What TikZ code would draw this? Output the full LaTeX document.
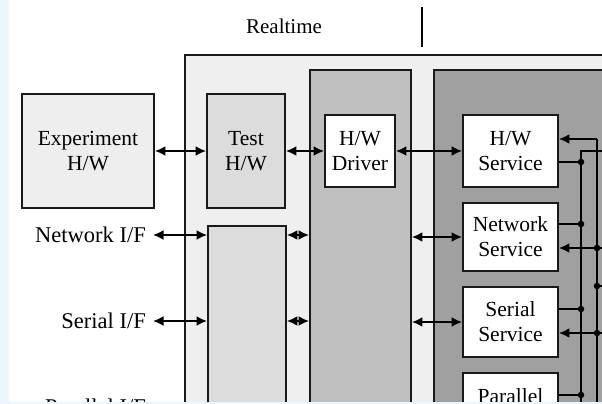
\documentclass[tikz,border=0pt]{standalone}
\usepackage{fontspec}
\setmainfont{Liberation Serif}
\usetikzlibrary{arrows.meta}
\definecolor{bandblue}{RGB}{238,246,253}
\definecolor{panelgray}{RGB}{239,239,239}
\definecolor{expgray}{RGB}{238,238,238}
\definecolor{testgray}{RGB}{220,220,220}
\definecolor{drivergray}{RGB}{192,192,192}
\definecolor{servicegray}{RGB}{160,160,160}
\begin{document}
\begin{tikzpicture}[x=1pt,y=-1pt,
  frame/.style={draw=black!90, line width=1.9pt, inner sep=0pt},
  panel/.style={frame, anchor=north west},
  block/.style={frame, fill=white, align=center, font=\fontsize{21.5}{25}\selectfont},
  iflabel/.style={anchor=east, inner sep=0pt, font=\fontsize{22.5}{27}\selectfont},
  tip/.tip={Latex[length=10.5pt,width=10pt]},
  link/.style={line width=1.9pt, tip-tip},
  feed/.style={line width=1.9pt, -tip},
  bus/.style={line width=1.9pt},
  tap/.style={circle, fill=black, inner sep=0pt, minimum size=6.5pt}]

\useasboundingbox (0,0) rectangle (602,404);
\clip (0,0) rectangle (602,404);
\fill[white] (0,0) rectangle (602,404);
\fill[bandblue] (0,0) rectangle (9,404);

% title and divider
\node[font=\fontsize{21}{25}\selectfont] (rt) at (284,26) {Realtime};
\coordinate (divtop) at (422,7);
\coordinate (divbot) at (422,47);
\draw[line width=2.2pt] (divtop) -- (divbot);

% realtime panel and its columns
\node[panel, fill=panelgray, minimum width=440pt, minimum height=380pt] (rtpanel) at (184,54) {};
\node[panel, fill=testgray, minimum width=78pt, minimum height=200pt] (testio) at (207,225) {};
\node[panel, fill=drivergray, minimum width=101pt, minimum height=360pt] (drvcol) at (309,69) {};
\node[panel, fill=servicegray, minimum width=200pt, minimum height=360pt] (svccol) at (433,69) {};

% blocks
\node[block, fill=expgray, minimum width=132pt, minimum height=114pt] (exp) at (88,151) {Experiment\\H/W};
\node[block, fill=testgray, minimum width=78pt, minimum height=114pt] (testhw) at (246,151) {Test\\H/W};
\node[block, minimum width=70pt, minimum height=72pt] (hwdrv) at (360,151) {H/W\\Driver};
\node[block, minimum width=95pt, minimum height=72pt] (hwsvc) at (510.5,151) {H/W\\Service};
\node[block, minimum width=95pt, minimum height=68pt] (netsvc) at (510.5,237) {Network\\Service};
\node[block, minimum width=95pt, minimum height=70pt] (sersvc) at (510.5,322) {Serial\\Service};
\node[block, minimum width=95pt, minimum height=72pt] (parsvc) at (510.5,409) {Parallel\\Service};

% interface labels
\node[iflabel] (netif) at (146,235) {Network I/F};
\node[iflabel] (serif) at (146,321) {Serial I/F};
\node[iflabel] (parif) at (146,407) {Parallel I/F};

% hardware path
\draw[link] (exp.east) -- (testhw.west);
\draw[link] (testhw.east) -- (hwdrv.west);
\draw[link] (hwdrv.east) -- (hwsvc.west);

% interface paths
\foreach \lab/\svc in {netif/netsvc, serif/sersvc, parif/parsvc}{
  \draw[link] ([xshift=7pt]\lab.east) -- (\lab.east -| testio.west);
  \draw[link] (testio.east |- \lab.east) -- (drvcol.west |- \lab.east);
  \draw[link] (drvcol.east |- \svc.west) -- (\svc.west);
}

% output bus
\coordinate (aTop) at (581,151);
\coordinate (aEnd) at (581,420);
\coordinate (aOut) at (610,151);
\draw[bus] (aOut) -- (aTop) -- (aEnd);
\foreach \svc/\yy in {hwsvc/162, netsvc/224, sersvc/309, parsvc/395}{
  \coordinate (tap-\svc) at (581,\yy);
  \draw[bus] (\svc.east |- tap-\svc) -- (tap-\svc);
  \node[tap] (dot-\svc) at (tap-\svc) {};
}

% input bus
\coordinate (bTop) at (597,139);
\coordinate (bEnd) at (597,420);
\draw[bus] (bEnd) -- (bTop);
\draw[feed] (bTop) -- (hwsvc.east |- bTop);
\foreach \svc/\yy in {netsvc/248, sersvc/333}{
  \coordinate (in-\svc) at (597,\yy);
  \coordinate (src-\svc) at (610,\yy);
  \draw[feed] (src-\svc) -- (\svc.east |- in-\svc);
  \node[tap] (dotin-\svc) at (in-\svc) {};
}
\coordinate (brTap) at (597,286);
\coordinate (brOut) at (610,286);
\draw[bus] (brTap) -- (brOut);
\node[tap] (dot-br) at (brTap) {};

% lower edge band
\fill[bandblue] (0,402) rectangle (602,404);
\end{tikzpicture}
\end{document}
